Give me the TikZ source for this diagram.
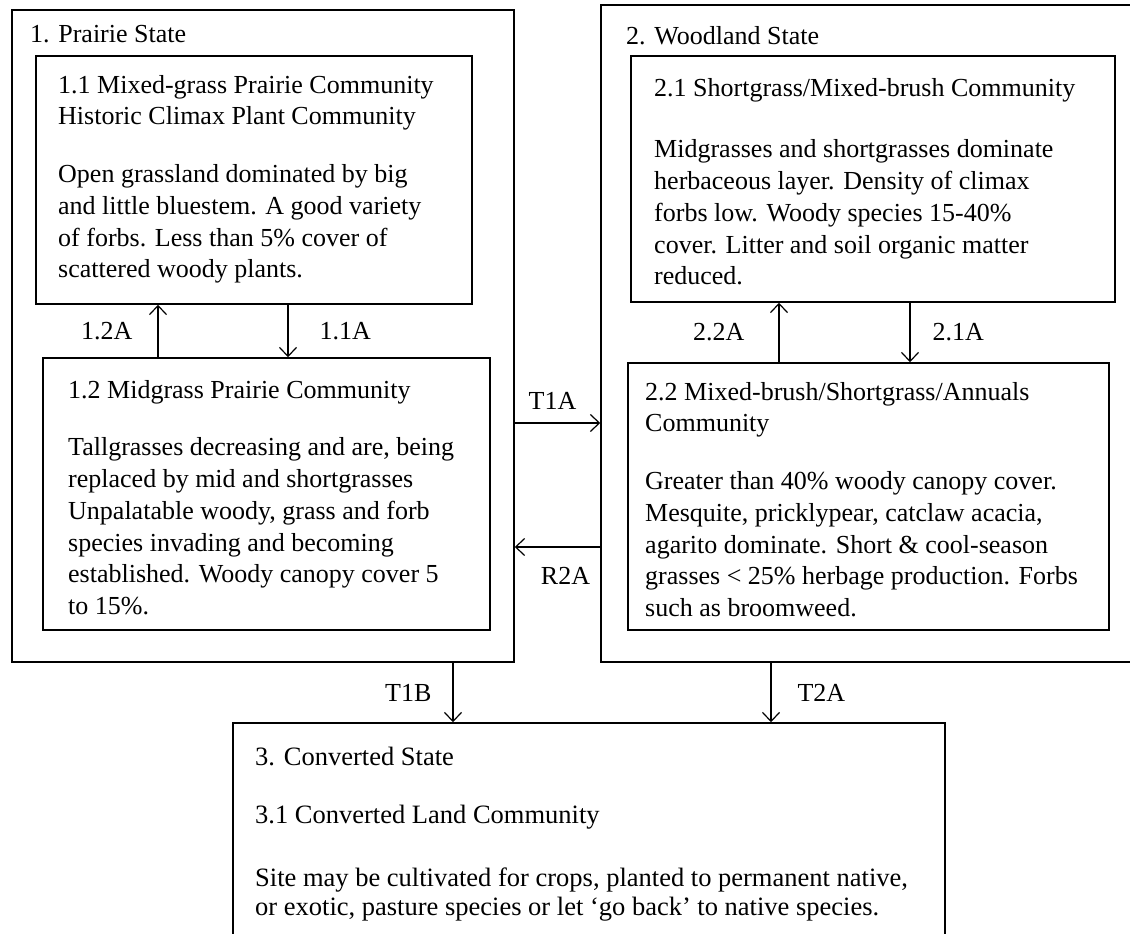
\documentclass[tikz,border=0pt]{standalone}
\usepackage{fontspec}
\setmainfont{Liberation Serif}
\usetikzlibrary{positioning,arrows.meta,fit}

\begin{document}
\begin{tikzpicture}[x=1pt,y=-1pt,
  box/.style={draw,inner sep=0pt,line width=1.5pt},
  txt/.style={anchor=north west,inner sep=0pt,align=left,font=\fontsize{26}{31.7}\selectfont},
  lbl/.style={inner sep=0pt,font=\fontsize{26}{31.7}\selectfont},
  arr/.style={-{Straight Barb[length=9pt,width=17pt]},line width=1.2pt}]
  \useasboundingbox (0,0) rectangle (1130,934);
  \clip (0,0) rectangle (1130,934);
  % state frames
  \node[box,fit={(12,10) (514,662)}] (prairie) {};
  \node[box,fit={(601,5) (1150,662)}] (woodland) {};
  \node[box,fit={(233,723) (945,960)}] (converted) {};
  % community boxes
  \node[box,fit={(36,56) (472,304)}] (mixgrass) {};
  \node[box,fit={(43,358) (490,630)}] (midgrass) {};
  \node[box,fit={(631,56) (1115,302)}] (shortgrass) {};
  \node[box,fit={(628,363) (1109,630)}] (mixbrush) {};

  \node[txt] (prairietitle) at (30,25) {1. Prairie State};
  \node[txt] (woodlandtitle) at (626,26) {2. Woodland State};
  \node[txt] (mixgrasstext) at (58,75) {1.1 Mixed-grass Prairie Community\\
    Historic Climax Plant Community\\[26pt]
    Open grassland dominated by big\\
    and little bluestem.  A good variety\\
    of forbs.  Less than 5\% cover of\\
    scattered woody plants.};
  \node[txt] (midgrasstext) at (68,380) {1.2 Midgrass Prairie Community\\[26pt]
    Tallgrasses decreasing and are, being\\
    replaced by mid and shortgrasses\\
    Unpalatable woody, grass and forb\\
    species invading and becoming\\
    established. Woody canopy cover 5\\
    to 15\%.};
  \node[txt] (shortgrasstext) at (654,78) {2.1 Shortgrass/Mixed-brush Community\\[30pt]
    Midgrasses and shortgrasses dominate\\
    herbaceous layer.  Density of climax\\
    forbs low.  Woody species 15-40\%\\
    cover.  Litter and soil organic matter\\
    reduced.};
  \node[txt] (mixbrushtext) at (645,382) {2.2 Mixed-brush/Shortgrass/Annuals\\
    Community\\[26pt]
    Greater than 40\% woody canopy cover.\\
    Mesquite, pricklypear,  catclaw acacia,\\
    agarito dominate.  Short \& cool-season\\
    grasses < 25\% herbage production.  Forbs\\
    such as broomweed.};
  \node[txt,font=\fontsize{26.5}{28.5}\selectfont] (convertedtext) at (255,747) {3.  Converted State\\[29.5pt]
    3.1 Converted Land Community\\[34.5pt]
    Site may be cultivated for crops, planted to permanent native,\\
    or exotic, pasture species or let `go back' to native species.};

  % arrow positions
  \coordinate (x12a) at (158,0);
  \coordinate (x11a) at (288,0);
  \coordinate (x22a) at (779,0);
  \coordinate (x21a) at (910,0);
  \coordinate (xt1b) at (453,0);
  \coordinate (xt2a) at (771,0);
  \coordinate (yt1a) at (0,423);
  \coordinate (yr2a) at (0,547);

  \draw[arr] (midgrass.north -| x12a) -- node[lbl,left=25pt] (l12a) {1.2A} (mixgrass.south -| x12a);
  \draw[arr] (mixgrass.south -| x11a) -- node[lbl,right=31pt] (l11a) {1.1A} (midgrass.north -| x11a);
  \draw[arr] (mixbrush.north -| x22a) -- node[lbl,left=34pt] (l22a) {2.2A} (shortgrass.south -| x22a);
  \draw[arr] (shortgrass.south -| x21a) -- node[lbl,right=22pt] (l21a) {2.1A} (mixbrush.north -| x21a);
  \draw[arr] (prairie.east |- yt1a) -- node[lbl,above=13pt,xshift=-5pt] (lt1a) {T1A} (woodland.west |- yt1a);
  \draw[arr] (woodland.west |- yr2a) -- node[lbl,below=20pt,xshift=8pt] (lr2a) {R2A} (prairie.east |- yr2a);
  \draw[arr] (prairie.south -| xt1b) -- node[lbl,left=21pt] (lt1b) {T1B} (converted.north -| xt1b);
  \draw[arr] (woodland.south -| xt2a) -- node[lbl,right=26pt] (lt2a) {T2A} (converted.north -| xt2a);
\end{tikzpicture}
\end{document}
